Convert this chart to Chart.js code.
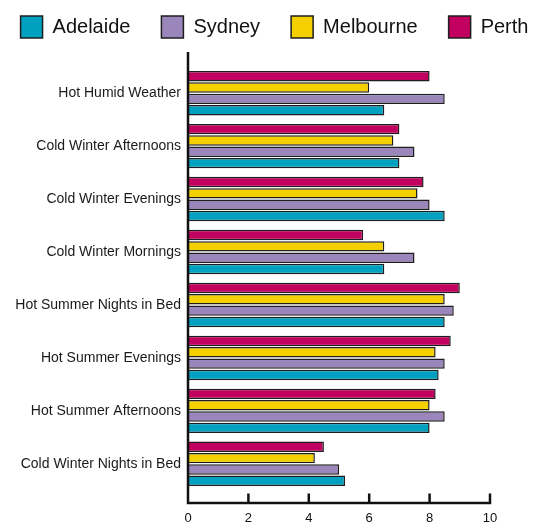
<!DOCTYPE html>
<html>
<head>
<meta charset="utf-8">
<title>Weather ratings by city</title>
<script src="https://cdn.jsdelivr.net/npm/chart.js@4/dist/chart.umd.min.js"></script>
<style>
  html, body { margin: 0; padding: 0; background: #ffffff; }
  #wrap { width: 543px; height: 525px; }
</style>
</head>
<body>
<div id="wrap"><canvas id="chart" width="543" height="525"></canvas></div>
<script>
// Categories, top to bottom
const categories = [
  'Hot Humid Weather',
  'Cold Winter Afternoons',
  'Cold Winter Evenings',
  'Cold Winter Mornings',
  'Hot Summer Nights in Bed',
  'Hot Summer Evenings',
  'Hot Summer Afternoons',
  'Cold Winter Nights in Bed'
];

// Ratings per city
const adelaide  = [6.5, 7.0, 8.5, 6.5, 8.5, 8.3, 8.0, 5.2];
const sydney    = [8.5, 7.5, 8.0, 7.5, 8.8, 8.5, 8.5, 5.0];
const melbourne = [6.0, 6.8, 7.6, 6.5, 8.5, 8.2, 8.0, 4.2];
const perth     = [8.0, 7.0, 7.8, 5.8, 9.0, 8.7, 8.2, 4.5];

// Value axis
const xMin = 0;
const xMax = 10;
const xStep = 2;

const INK = '#111111';
const FONT = "'Liberation Sans', Arial, Helvetica, sans-serif";

// Axis lines run slightly past the plot band, with ticks pointing up from the base line
const axisLines = {
  id: 'axisLines',
  afterDatasetsDraw(chart) {
    const { ctx, chartArea, scales } = chart;
    const xs = scales.x;
    const baseY = chartArea.bottom + 12.7;
    const topY = chartArea.top - 14.7;
    ctx.save();
    ctx.strokeStyle = INK;
    ctx.lineWidth = 2.5;
    ctx.lineCap = 'butt';
    ctx.beginPath();
    ctx.moveTo(chartArea.left, topY);
    ctx.lineTo(chartArea.left, baseY + 1.25);
    ctx.moveTo(chartArea.left - 1.25, baseY);
    ctx.lineTo(xs.getPixelForValue(xMax) + 1.25, baseY);
    xs.ticks.forEach(t => {
      const px = xs.getPixelForValue(t.value);
      ctx.moveTo(px, baseY);
      ctx.lineTo(px, baseY - 9.5);
    });
    ctx.stroke();
    ctx.restore();
  }
};

const common = { borderColor: '#1e1e1e', borderWidth: 1.5, xAxisID: 'x', yAxisID: 'y',
                 categoryPercentage: 0.856, barPercentage: 0.92 };

// empty spacer box used to reserve room around the plot
const spacer = (axis, position, size) => ({
  type: 'linear',
  axis,
  position,
  display: true,
  grid: { display: false, drawTicks: false },
  border: { display: false },
  ticks: { display: false },
  afterFit(s) { if (axis === 'x') { s.height = size; } else { s.width = size; } }
});

new Chart(document.getElementById('chart'), {
  type: 'bar',
  data: {
    labels: categories,
    datasets: [
      { label: 'Perth',     data: perth,     backgroundColor: '#C2005F', ...common },
      { label: 'Melbourne', data: melbourne, backgroundColor: '#F5D000', ...common },
      { label: 'Sydney',    data: sydney,    backgroundColor: '#9A86BA', ...common },
      { label: 'Adelaide',  data: adelaide,  backgroundColor: '#00A0C0', ...common }
    ]
  },
  options: {
    indexAxis: 'y',
    responsive: false,
    animation: false,
    devicePixelRatio: 1,
    layout: { padding: { top: -15, right: -23, bottom: 0, left: -17 } },
    plugins: {
      legend: {
        position: 'top',
        reverse: true,
        labels: {
          boxWidth: 22,
          boxHeight: 22,
          padding: 31,
          color: INK,
          font: { family: FONT, size: 20 }
        }
      },
      tooltip: { enabled: false }
    },
    scales: {
      x: {
        type: 'linear',
        position: 'bottom',
        min: xMin,
        max: xMax,
        grid: { display: false, drawTicks: false },
        border: { display: false },
        ticks: {
          stepSize: xStep,
          padding: 20.5,
          color: INK,
          font: { family: FONT, size: 13 }
        },
        afterFit(s) { s.height = 34.7; }
      },
      gapTop: spacer('x', 'top', 18.7),
      gapRight: spacer('y', 'right', 76),
      y: {
        type: 'category',
        position: 'left',
        grid: { display: false, drawTicks: false },
        border: { display: false },
        ticks: {
          padding: 7,
          color: '#1a1a1a',
          font: { family: FONT, size: 14 }
        },
        afterFit(s) { s.width = 205; }
      }
    }
  },
  plugins: [axisLines]
});
</script>
</body>
</html>
